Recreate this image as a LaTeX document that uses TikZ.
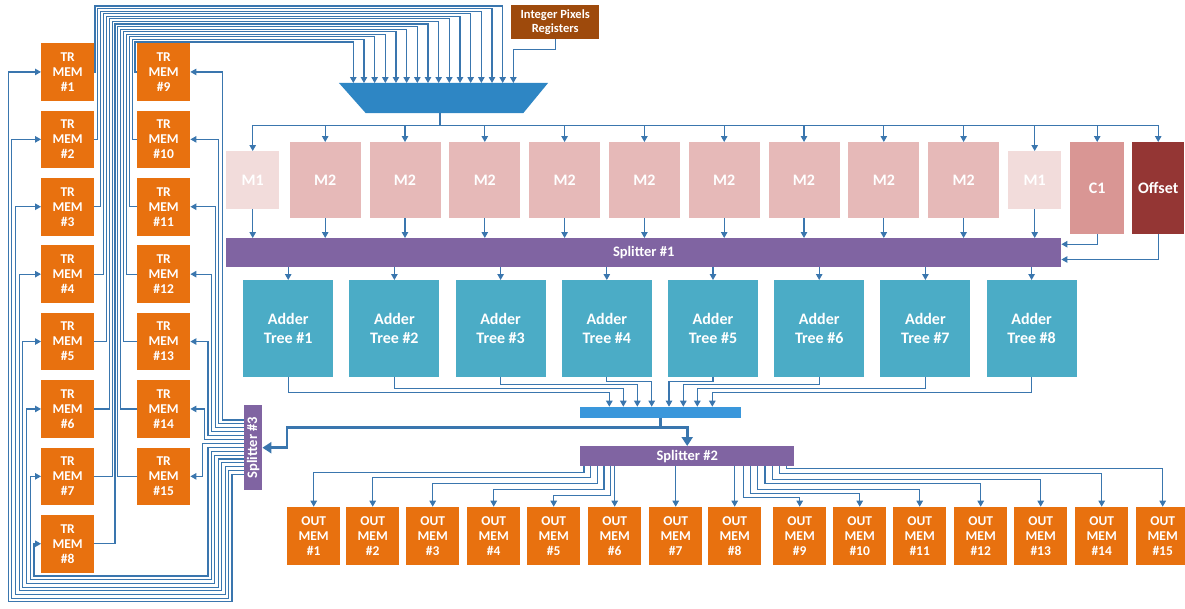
\documentclass[tikz,border=0pt]{standalone}
\usepackage{fontspec}
\setmainfont{Carlito}
\usetikzlibrary{arrows.meta,positioning,calc}
\definecolor{memorange}{HTML}{E8710F}
\definecolor{regbrown}{HTML}{9E4A0C}
\definecolor{muxblue}{HTML}{2E86C4}
\definecolor{barblue}{HTML}{3A97DB}
\definecolor{mlight}{HTML}{F2DCDB}
\definecolor{mmid}{HTML}{E6B9B8}
\definecolor{cone}{HTML}{D99694}
\definecolor{offred}{HTML}{943634}
\definecolor{splitviolet}{HTML}{8064A2}
\definecolor{addteal}{HTML}{4BACC6}
\definecolor{wire}{HTML}{3A76AE}

\begin{document}
\begin{tikzpicture}[x=1pt, y=-1pt,
  blk/.style={anchor=north west, inner sep=0pt, align=center, text=white, font=\fontsize{16}{19}\selectfont\bfseries},
  mem/.style={blk, fill=memorange, minimum width=53pt, minimum height=57.5pt, font=\fontsize{13.5}{15}\selectfont\bfseries},
  mbox/.style={blk, fill=mmid, minimum width=71pt, minimum height=76pt},
  adder/.style={blk, fill=addteal, minimum width=90pt, minimum height=96.7pt},
  splitbar/.style={blk, fill=splitviolet, font=\fontsize{14.5}{16}\selectfont\bfseries},
  link/.style={draw=wire, line width=1.1pt},
  arr/.style={link, -{Triangle[length=6pt,width=6.5pt]}},
  fat/.style={draw=wire, line width=2.6pt, -{Triangle[length=9pt,width=11pt]}}
]
\useasboundingbox (0,0) rectangle (1185,608);

% TR memories
\foreach \k in {1,...,8} {
  \pgfmathsetmacro\ty{43+67.4*(\k-1)}
  \node[mem] (tr\k) at (41,\ty) {TR\\MEM\\\#\k};
}
\foreach \k in {9,...,15} {
  \pgfmathsetmacro\ty{43+67.4*(\k-9)}
  \node[mem] (tr\k) at (137,\ty) {TR\\MEM\\\#\k};
}

% multiplexer
\node[minimum width=209pt, minimum height=30pt, inner sep=0pt] (mux) at (443.5,98) {};
\fill[muxblue] (mux.north west) -- (mux.north east) -- ([xshift=-25pt]mux.south east) -- ([xshift=27pt]mux.south west) -- cycle;
\foreach \n in {1,...,16} {
  \coordinate (min\n) at ({353.3+10.67*(\n-1)},83);
}
\node[blk, fill=regbrown, minimum width=88pt, minimum height=34pt, font=\fontsize{12.5}{14}\selectfont\bfseries] (ipr) at (511,5) {Integer Pixels\\Registers};
\draw[arr] (ipr.south) -- ++(0,10) -| (min16);

\foreach \k in {1,...,8} {
  \pgfmathsetmacro\vx{95+2.86*(\k-1)}
  \pgfmathsetmacro\vy{6+2.57*(\k-1)}
  \pgfmathtruncatemacro\n{16-\k}
  \draw[arr] (tr\k.east) -| (\vx,\vy) -| (min\n);
}
\foreach \k in {9,...,15} {
  \pgfmathsetmacro\vx{95+2.86*(23-\k)}
  \pgfmathsetmacro\vy{6+2.57*(23-\k)}
  \pgfmathtruncatemacro\n{\k-8}
  \draw[arr] (tr\k.west) -| (\vx,\vy) -| (min\n);
}

% coefficient blocks
\node[mbox, fill=mlight, minimum width=53pt, minimum height=58pt] (m1a) at (226,151) {M1};
\foreach \k in {1,...,9} {
  \pgfmathsetmacro\mx{289.5+79.8*(\k-1)}
  \node[mbox] (mtwo\k) at (\mx,142) {M2};
}
\node[mbox, fill=mlight, minimum width=53pt, minimum height=58pt] (m1b) at (1008,151) {M1};
\node[mbox, fill=cone, minimum width=54pt, minimum height=92pt] (c1) at (1070,142) {C1};
\node[mbox, fill=offred, minimum width=52pt, minimum height=92pt] (off) at (1132,142) {Offset};

\draw[link] ([xshift=-3.5pt]mux.south) -- ++(0,12) coordinate (bus);
\draw[link] (m1a.north |- bus) -- (off.north |- bus);
\foreach \b in {m1a,m1b,c1,off} \draw[arr] (\b.north |- bus) -- (\b.north);
\foreach \k in {1,...,9} \draw[arr] (mtwo\k.north |- bus) -- (mtwo\k.north);

% splitter 1 and adder trees
\node[splitbar, minimum width=835pt, minimum height=29pt] (split1) at (226,238) {Splitter \#1};
\foreach \b in {m1a,m1b} \draw[arr] (\b.south) -- (\b.south |- split1.north);
\foreach \k in {1,...,9} \draw[arr] (mtwo\k.south) -- (mtwo\k.south |- split1.north);
\draw[arr] (c1.south) |- ([yshift=8.5pt]split1.east);
\draw[arr] (off.south) |- ([yshift=-6.8pt]split1.east);

\foreach \k in {1,...,8} {
  \pgfmathsetmacro\ax{243+106.2*(\k-1)}
  \node[adder] (add\k) at (\ax,280) {Adder\\Tree \#\k};
  \draw[arr] (add\k.north |- split1.south) -- (add\k.north);
}

% merge bar
\node[blk, fill=barblue, minimum width=160.7pt, minimum height=10.6pt] (bar) at (580,406.7) {};
\foreach \k/\bx/\dy in {1/609.3/15.6, 2/623.3/11.6, 3/637.3/7.3, 4/651.7/4.3, 5/669/4.3, 6/683.3/7.3, 7/697.3/11.6, 8/712.3/15.6} {
  \coordinate (bin\k) at (\bx,406.7);
  \draw[arr] (add\k.south) -- ++(0,\dy) -| (bin\k);
}

\node[splitbar, minimum width=214pt, minimum height=20pt] (split2) at (580,446) {Splitter \#2};
\node[splitbar, minimum width=18pt, minimum height=85pt] (split3) at (244,405) {\rotatebox{90}{Splitter \#3}};

\draw[fat, -] (bar.south) -- ++(0,10) coordinate (fork);
\draw[fat] (fork) -| (split2.north);
\draw[fat] (fork) -| ([xshift=24.7pt]split3.east) -- (split3.east);

% output memories
\foreach \k/\ox in {1/287,2/346,3/406,4/467,5/527,6/588,7/649,8/708,9/773,10/833,11/893,12/954,13/1014,14/1075,15/1136} {
  \node[mem, minimum height=57.6pt] (out\k) at (\ox,506.7) {OUT\\MEM\\\#\k};
}
\foreach \k/\sx/\dy in {1/4/5.7, 2/10.7/11.3, 3/17.3/17.3, 4/24/23.3, 5/30.7/28.7, 9/163.3/31.3, 10/170.5/27.3, 11/177.7/23, 12/185/17.3, 13/192.2/13, 14/199.4/7.3, 15/206.7/2.3} {
  \draw[arr] ([xshift=\sx pt]split2.south west) -- ++(0,\dy) -| (out\k.north);
}
\foreach \k in {6,7,8} \draw[arr] (out\k.north |- split2.south) -- (out\k.north);

% feedback from splitter 3
\foreach \j in {1,...,6} {
  \pgfmathtruncatemacro\k{8+\j}
  \pgfmathsetmacro\sy{15+3.9*(\j-1)}
  \pgfmathsetmacro\rx{32-3.6*(\j-1)}
  \draw[arr] ([yshift=-\sy pt]split3.north west) -| ([xshift=\rx pt]tr\k.east) -- (tr\k.east);
}
\draw[arr] ([yshift=-38.4pt]split3.north west) -| ([xshift=11.7pt]tr15.east) -- (tr15.east);
\foreach \m in {0,...,7} {
  \pgfmathtruncatemacro\k{8-\m}
  \pgfmathsetmacro\sy{15+3.9*(\m+7)}
  \pgfmathsetmacro\xr{208+3.43*\m}
  \pgfmathsetmacro\yb{576+3.7*\m}
  \pgfmathsetmacro\lx{7+3.7*\m}
  \draw[arr] ([yshift=-\sy pt]split3.north west) -| (\xr,\yb) -| ([xshift=-\lx pt]tr\k.west) -- (tr\k.west);
}
\end{tikzpicture}
\end{document}
